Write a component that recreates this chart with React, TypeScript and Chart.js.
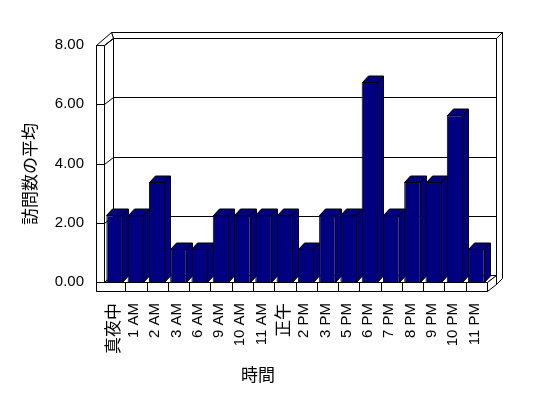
import React, { useEffect, useRef } from "react";
import { Chart, registerables } from "chart.js";

Chart.register(...registerables);

const CATEGORIES = [
  "真夜中", "1 AM", "2 AM", "3 AM", "6 AM", "9 AM", "10 AM", "11 AM", "正午",
  "2 PM", "3 PM", "5 PM", "6 PM", "7 PM", "8 PM", "9 PM", "10 PM", "11 PM",
];
const VISITS_AVG = [
  2.25, 2.25, 3.375, 1.125, 1.125, 2.25, 2.25, 2.25, 2.25,
  1.125, 2.25, 2.25, 6.75, 2.25, 3.375, 3.375, 5.625, 1.125,
];
const Y_TICKS = [0, 2, 4, 6, 8];
const Y_TITLE = "訪問数の平均";
const X_TITLE = "時間";

const FONT = '"Liberation Sans", "Noto Sans CJK JP", sans-serif';
const CJK_FONT = '"Noto Sans CJK JP", "Liberation Sans", sans-serif';
const BAR_COLOR = "#000080";

// 3D look
const DEPTH = { dx: 9, dy: -7 };
const WALL = { tx: 6, ty: -6 };
const LEFT_W = 8;
const FLOOR_H = 9;
const BAR_D = { dx: 6, dy: -6.5 };

type Pt = [number, number];

function poly(ctx: CanvasRenderingContext2D, pts: Pt[], fill: string) {
  ctx.beginPath();
  pts.forEach(([px, py], i) => (i ? ctx.lineTo(px, py) : ctx.moveTo(px, py)));
  ctx.closePath();
  ctx.fillStyle = fill;
  ctx.fill();
  ctx.stroke();
}
function line(ctx: CanvasRenderingContext2D, a: Pt, b: Pt) {
  ctx.beginPath();
  ctx.moveTo(a[0], a[1]);
  ctx.lineTo(b[0], b[1]);
  ctx.stroke();
}
const h = (v: number) => Math.round(v) + 0.5;

const frame3d = {
  id: "frame3d",
  beforeDatasetsDraw(chart: any) {
    const { ctx, chartArea, scales } = chart;
    const L = h(chartArea.left), R = h(chartArea.right), T = h(chartArea.top), B = h(chartArea.bottom);
    const { dx, dy } = DEPTH;
    const { tx, ty } = WALL;
    const W = LEFT_W, F = FLOOR_H;
    ctx.save();
    ctx.lineWidth = 1;
    ctx.strokeStyle = "#000";
    const white = "#fff";
    // back wall top
    poly(ctx, [[L + dx, T + dy], [R + dx, T + dy], [R + dx + tx, T + dy + ty], [L - W + dx + tx, T + dy + ty]], white);
    // left wall top
    poly(ctx, [[L - W, T], [L, T], [L + dx, T + dy], [L - W + dx + tx, T + dy + ty]], white);
    // back wall right side
    poly(ctx, [[R + dx, T + dy], [R + dx + tx, T + dy + ty], [R + dx + tx, B + F + dy + ty], [R + dx, B + F + dy]], white);
    // back wall inner face
    poly(ctx, [[L + dx, T + dy], [R + dx, T + dy], [R + dx, B + dy], [L + dx, B + dy]], white);
    // left wall inner face
    poly(ctx, [[L, T], [L + dx, T + dy], [L + dx, B + dy], [L, B]], white);
    // left wall front face
    poly(ctx, [[L - W, T], [L, T], [L, B + F], [L - W, B + F]], white);
    Y_TICKS.forEach((v) => {
      const py = h(scales.y.getPixelForValue(v));
      line(ctx, [L + dx, py + dy], [R + dx, py + dy]);
      line(ctx, [L, py], [L + dx, py + dy]);
      line(ctx, [L - W, py], [L, py]);
    });
    // floor
    poly(ctx, [[L, B], [R, B], [R + dx, B + dy], [L + dx, B + dy]], white);
    poly(ctx, [[L - W, B], [R, B], [R, B + F], [L - W, B + F]], white);
    poly(ctx, [[R, B], [R + dx, B + dy], [R + dx, B + F + dy], [R, B + F]], white);
    for (let k = 1; k < CATEGORIES.length; k++) {
      const px = h((scales.x.getPixelForValue(k - 1) + scales.x.getPixelForValue(k)) / 2);
      line(ctx, [px, B], [px, B + F]);
    }
    // bar sides and tops
    const meta = chart.getDatasetMeta(0);
    meta.data.forEach((el: any) => {
      const left = Math.round(el.x - el.width / 2) + 0.5;
      const right = Math.round(el.x + el.width / 2) - 0.5;
      const top = h(el.y);
      const base = h(el.base);
      poly(ctx, [[left, top], [right, top], [right + BAR_D.dx, top + BAR_D.dy], [left + BAR_D.dx, top + BAR_D.dy]], BAR_COLOR);
      poly(ctx, [[right, top], [right + BAR_D.dx, top + BAR_D.dy], [right + BAR_D.dx, base + BAR_D.dy], [right, base]], BAR_COLOR);
    });
    ctx.restore();
  },
  afterDraw(chart: any) {
    const { ctx } = chart;
    ctx.save();
    ctx.fillStyle = "#000";
    ctx.font = `17px ${CJK_FONT}`;
    ctx.textAlign = "center";
    ctx.textBaseline = "middle";
    ctx.translate(30, 174);
    ctx.rotate(-Math.PI / 2);
    ctx.fillText(Y_TITLE, 0, 0);
    ctx.restore();
    ctx.save();
    ctx.fillStyle = "#000";
    ctx.font = `17px ${CJK_FONT}`;
    ctx.textAlign = "center";
    ctx.textBaseline = "middle";
    ctx.fillText(X_TITLE, 258, 375);
    ctx.restore();
  },
};

export default function App() {
  const ref = useRef<HTMLCanvasElement | null>(null);
  useEffect(() => {
    if (!ref.current) return;
    const chart = new Chart(ref.current, {
      type: "bar",
      data: {
        labels: CATEGORIES,
        datasets: [
          {
            data: VISITS_AVG,
            backgroundColor: BAR_COLOR,
            borderColor: "#000",
            borderWidth: 1,
            barPercentage: 0.78,
            categoryPercentage: 1,
          },
        ],
      },
      options: {
        responsive: false,
        animation: false,
        layout: { padding: { left: 0, top: 45, right: 61, bottom: 0 } },
        plugins: { legend: { display: false }, tooltip: { enabled: false } },
        scales: {
          x: {
            grid: { display: false, drawTicks: false },
            border: { display: false },
            ticks: {
              autoSkip: false,
              minRotation: 90,
              maxRotation: 90,
              padding: 21,
              labelOffset: -2,
              color: "#000",
              font: (c: any) => {
                const lab = CATEGORIES[c.index] || "";
                const cjk = /[^\x00-\x7F]/.test(lab);
                return { family: cjk ? CJK_FONT : FONT, size: cjk ? 17 : 15 };
              },
            },
            afterFit: (s: any) => {
              s.height = 116;
            },
          },
          y: {
            min: 0,
            max: 8,
            afterBuildTicks: (s: any) => {
              s.ticks = Y_TICKS.map((v) => ({ value: v }));
            },
            grid: { display: false, drawTicks: false },
            border: { display: false },
            ticks: {
              padding: 20,
              color: "#000",
              font: { family: FONT, size: 15 },
              callback: (v: any) => Number(v).toFixed(2),
            },
            afterFit: (s: any) => {
              s.width = 104;
            },
          },
        },
      },
      plugins: [frame3d],
    });
    return () => chart.destroy();
  }, []);
  return (
    <div style={{ position: "fixed", left: 0, top: 0, width: 548, height: 398, background: "#fff" }}>
      <canvas ref={ref} width={548} height={398} style={{ display: "block" }} />
    </div>
  );
}
